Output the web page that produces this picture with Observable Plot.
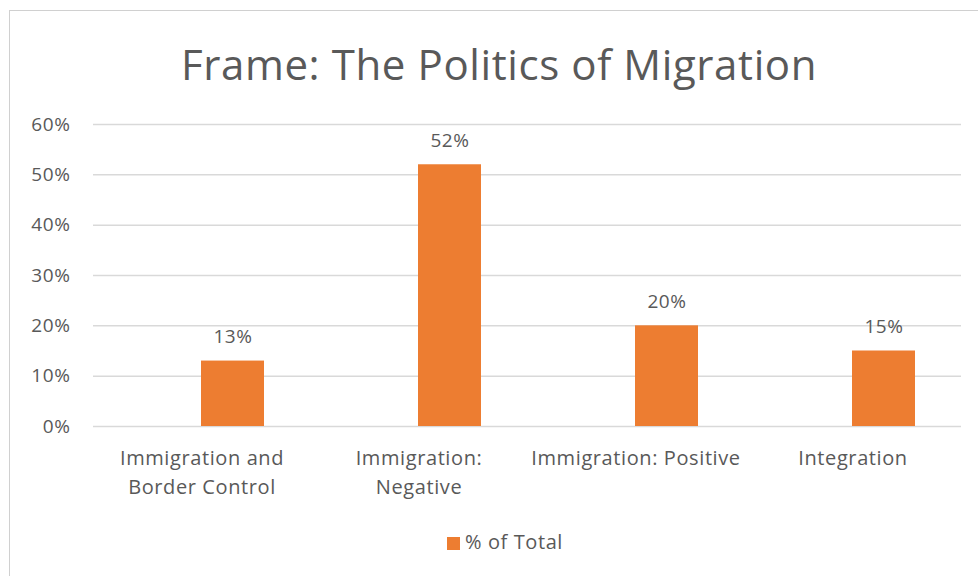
<!DOCTYPE html>
<html><head><meta charset="utf-8">
<script src="https://cdn.jsdelivr.net/npm/d3@7"></script>
<script src="https://cdn.jsdelivr.net/npm/@observablehq/plot@0.6"></script>
<style>
body{margin:0;background:#fff;font-family:"Open Sans",Lato,sans-serif;letter-spacing:0.6px}
#wrap{position:relative;width:978px;height:576px;overflow:hidden;background:#fff}
#frame{position:absolute;left:9px;top:10px;width:1000px;height:620px;border:1.5px solid #d0d0d0;box-sizing:border-box}
#title{position:absolute;top:43px;left:0;width:998px;text-align:center;font-size:42px;line-height:42px;color:#595959;white-space:nowrap}
#plot{position:absolute;left:0;top:0}
#legend{position:absolute;top:530px;left:447px;font-size:20px;line-height:24px;color:#595959;white-space:nowrap}
#legend .sw{display:inline-block;width:13px;height:13px;background:#ED7D31;margin-right:5px;vertical-align:-1px}
</style>
</head><body>
<div id="wrap">
  <div id="frame"></div>
  <div id="title"></div>
  <div id="plot"></div>
  <div id="legend"></div>
</div>
<script>
const title = "Frame: The Politics of Migration";
const seriesName = "% of Total";
const categories = ["Immigration and Border Control", "Immigration: Negative", "Immigration: Positive", "Integration"];
const tickLabels = ["Immigration and\nBorder Control", "Immigration:\nNegative", "Immigration: Positive", "Integration"];
const values = [0.13, 0.52, 0.20, 0.15];
const yTicks = [0, 0.1, 0.2, 0.3, 0.4, 0.5, 0.6];

const data = categories.map((c, i) => ({cat: c, val: values[i]}));
const labelOf = new Map(categories.map((c, i) => [c, tickLabels[i]]));
const pct = d3.format(".0%");
const orange = "#ED7D31";
const grey = "#595959";

document.getElementById("title").textContent = title;
document.getElementById("legend").innerHTML = '<span class="sw"></span>' + seriesName;

const chart = Plot.plot({
  width: 978,
  height: 576,
  marginTop: 124,
  marginBottom: 150,
  marginLeft: 93,
  marginRight: 17,
  style: {fontFamily: '"Open Sans", Lato, sans-serif', color: grey, background: "transparent", letterSpacing: "0.6px"},
  x: {domain: categories, padding: 0},
  y: {domain: [0, 0.6]},
  marks: [
    Plot.gridY(yTicks, {stroke: "#d9d9d9", strokeOpacity: 1, strokeWidth: 1.5}),
    Plot.axisY({ticks: yTicks, tickFormat: pct, tickSize: 0, tickPadding: 23, fontSize: 19, label: null, fill: grey}),
    Plot.axisX({tickSize: 0, tickPadding: 18, tickFormat: d => labelOf.get(d), fontSize: 20, lineHeight: 1.45, label: null, fill: grey}),
    Plot.barY(data, {x: "cat", y: "val", fill: orange, insetLeft: 108, insetRight: 46}),
    Plot.text(data, {x: "cat", y: "val", text: d => pct(d.val), dx: 31, dy: -24, fontSize: 19, fill: grey})
  ]
});
document.getElementById("plot").appendChild(chart);
</script>
</body></html>
